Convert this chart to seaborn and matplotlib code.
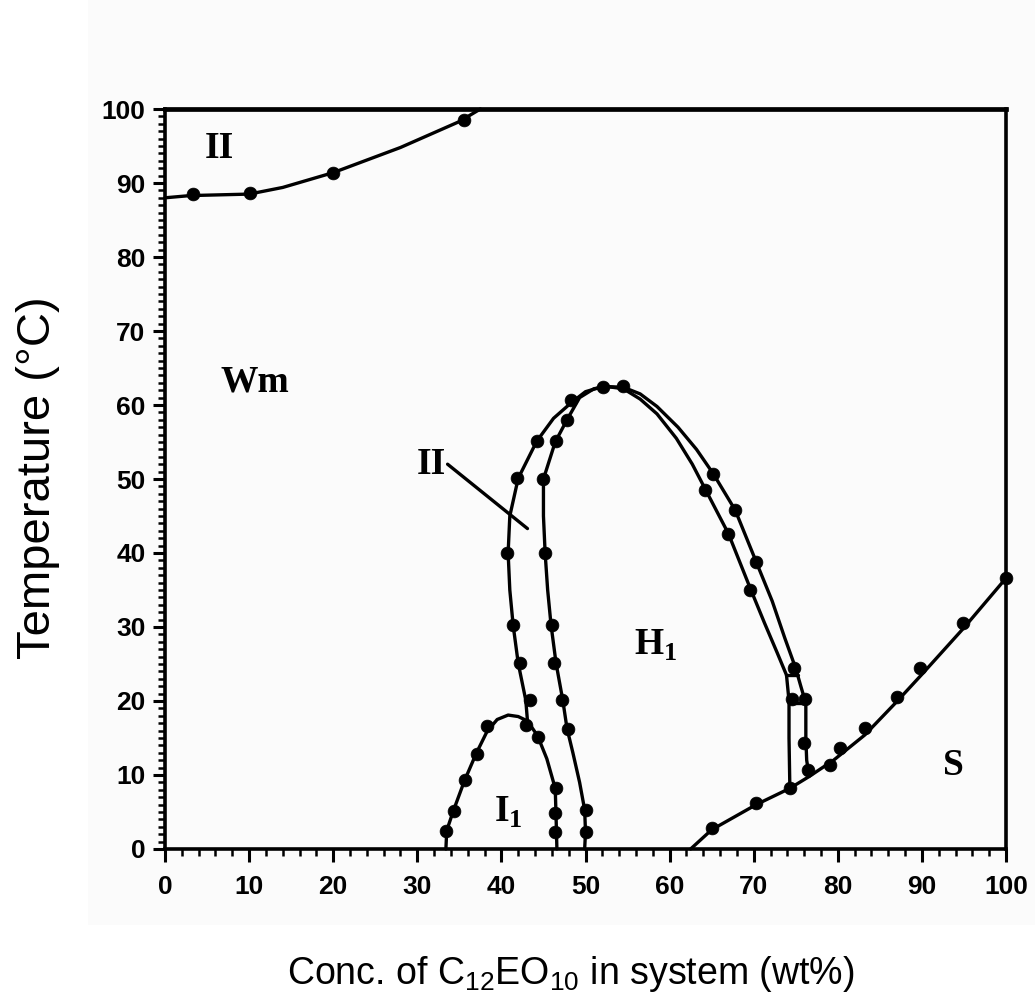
import matplotlib
matplotlib.use("Agg")
import matplotlib.pyplot as plt
from matplotlib.patches import Rectangle
from matplotlib.ticker import MultipleLocator
import pandas as pd
import seaborn as sns

# --- Phase boundaries (wt%, degC) ---

# upper two-phase boundary (cloud point)
top_x = [0, 3, 10, 14, 20, 28, 35, 37.5]
top_y = [88.0, 88.3, 88.5, 89.4, 91.4, 94.8, 98.3, 100]
top_dot_x = [3.3, 10.1, 20.0, 35.6]
top_dot_y = [88.5, 88.6, 91.4, 98.5]

# I1 dome
dome_x = [33.4, 33.5, 34.3, 35.6, 37.0, 38.3, 39.5, 40.8, 42.0, 43.1, 44.3, 45.4, 46.4, 46.5, 46.6]
dome_y = [0, 2.5, 5.2, 9.2, 12.9, 15.9, 17.5, 18.1, 17.9, 17.3, 15.3, 12.2, 8.2, 4.4, 0]
dome_dot_x = [33.4, 34.4, 35.7, 37.1, 38.3, 42.9, 44.3, 46.5, 46.4, 46.4]
dome_dot_y = [2.5, 5.2, 9.3, 12.9, 16.6, 16.8, 15.1, 8.2, 4.8, 2.3]

# outer boundary of the II band around H1
outer_x = [43.1, 42.9, 42.0, 41.4, 41.0, 40.8, 41.0, 42.0, 44.2, 46.2, 48.4, 50.0, 52.1,
           54.5, 56.5, 58.5, 61.0, 63.2, 65.2, 67.8, 70.3, 72.2, 73.7, 75.0, 75.6, 76.2,
           76.2, 76.3, 76.6]
outer_y = [17.3, 20.1, 25.1, 30.2, 35.0, 40.0, 45.0, 50.1, 55.1, 58.2, 60.4, 61.8, 62.5,
           62.4, 61.5, 59.8, 57.0, 54.0, 50.7, 45.8, 38.8, 33.5, 28.5, 24.4, 22.0, 19.7,
           15.0, 12.0, 9.8]
outer_dot_x = [43.4, 42.2, 41.4, 40.7, 41.9, 44.2, 48.3, 52.1, 54.5,
               65.2, 67.8, 70.3, 74.8, 76.1, 76.0, 76.5]
outer_dot_y = [20.2, 25.1, 30.3, 40.0, 50.1, 55.2, 60.7, 62.5, 62.6,
               50.7, 45.8, 38.8, 24.4, 20.3, 14.3, 10.7]

# inner boundary (edge of H1)
inner_x = [49.9, 50.0, 49.9, 49.3, 48.5, 47.8, 47.3, 46.5, 45.9, 45.5, 45.2, 45.0, 45.0,
           46.4, 47.8, 49.3, 51.0, 52.5, 54.5, 56.5, 58.5, 60.8, 62.7, 64.3, 67.0, 69.6,
           71.3, 72.8, 73.9, 74.2, 74.2, 74.3]
inner_y = [0, 2.3, 5.3, 9.0, 13.0, 16.3, 20.1, 25.1, 30.3, 35.0, 40.0, 45.0, 50.0,
           55.0, 58.0, 61.0, 62.2, 62.5, 62.2, 60.8, 58.8, 55.5, 52.0, 48.5, 42.6, 35.2,
           30.5, 26.5, 23.5, 20.0, 15.0, 8.2]
inner_dot_x = [50.0, 50.0, 47.9, 47.2, 46.2, 46.0, 45.2, 44.9, 46.5, 47.8,
               64.2, 67.0, 69.6, 74.5, 74.3]
inner_dot_y = [2.3, 5.3, 16.2, 20.1, 25.1, 30.3, 40.0, 50.0, 55.1, 58.0,
               48.5, 42.6, 35.0, 20.3, 8.2]

# tie lines in the narrow band
tie_x = [[73.9, 75.3], [74.2, 76.2]]
tie_y = [[23.5, 23.5], [19.7, 19.7]]

# solid (S) boundary
s_x = [62.5, 65.0, 70.3, 74.3, 76.6, 79.5, 83.2, 87.0, 90.0, 95.0, 100.0]
s_y = [0, 2.6, 6.0, 8.2, 9.8, 12.0, 15.4, 19.9, 23.6, 29.9, 36.6]
s_dot_x = [65.0, 70.3, 79.1, 80.3, 83.2, 87.0, 89.8, 94.9, 100.0]
s_dot_y = [2.8, 6.2, 11.4, 13.6, 16.3, 20.6, 24.4, 30.6, 36.6]

# region labels
region_text = ["II", "Wm", "II", r"H$_\mathregular{1}$", r"I$_\mathregular{1}$", "S"]
region_x = [6.5, 10.7, 31.7, 58.3, 40.8, 93.7]
region_y = [94.7, 63.1, 51.9, 27.5, 5.0, 11.3]
leader_x = [33.6, 43.1]
leader_y = [52.0, 43.3]


sns.set_theme(style="ticks")
plt.rcParams["font.family"] = ["Liberation Sans", "DejaVu Sans"]
plt.rcParams["text.color"] = "black"

fig = plt.figure(figsize=(10.35, 9.97), dpi=100)
fig.patches.append(Rectangle((88 / 1035, 1 - 925 / 997), 1, 1, transform=fig.transFigure,
                             facecolor="#fbfbfb", edgecolor="none", zorder=-5))
ax = fig.add_axes([165 / 1035, 1 - 849 / 997, 841 / 1035, 740 / 997])
ax.set_facecolor("#fbfbfb")

lines = [(top_x, top_y), (dome_x, dome_y), (outer_x, outer_y), (inner_x, inner_y),
         (s_x, s_y), (leader_x, leader_y)] + list(zip(tie_x, tie_y))
for xs, ys in lines:
    df = pd.DataFrame({"x": xs, "y": ys})
    sns.lineplot(data=df, x="x", y="y", sort=False, estimator=None, color="black",
                 linewidth=2.4, ax=ax, clip_on=False)

dots = pd.DataFrame({
    "x": top_dot_x + dome_dot_x + outer_dot_x + inner_dot_x + s_dot_x,
    "y": top_dot_y + dome_dot_y + outer_dot_y + inner_dot_y + s_dot_y,
})
sns.scatterplot(data=dots, x="x", y="y", color="black", s=85, edgecolor="black",
                linewidth=0.5, ax=ax, zorder=5, clip_on=False)

for txt, x, y in zip(region_text, region_x, region_y):
    ax.text(x, y, txt, ha="center", va="center", fontsize=27, fontweight="bold",
            color="black", family=["Liberation Serif", "DejaVu Serif"])

ax.set_xlim(0, 100)
ax.set_ylim(0, 100)
ax.xaxis.set_major_locator(MultipleLocator(10))
ax.xaxis.set_minor_locator(MultipleLocator(2))
ax.yaxis.set_major_locator(MultipleLocator(10))
ax.yaxis.set_minor_locator(MultipleLocator(1))
ax.tick_params(which="major", direction="out", length=9, width=2.2, labelsize=19,
               pad=5, color="black", labelcolor="black")
ax.tick_params(axis="x", which="major", pad=10)
ax.tick_params(which="minor", direction="out", length=5, width=1.8, color="black")
for lab in ax.get_xticklabels() + ax.get_yticklabels():
    lab.set_fontweight("bold")
for side in ["left", "bottom", "right"]:
    ax.spines[side].set_linewidth(2.6)
    ax.spines[side].set_color("black")
ax.spines["top"].set_linewidth(3.4)
ax.spines["top"].set_color("black")
ax.set_xlabel("")
ax.set_ylabel("")

fig.text(38 / 1035, 1 - 478 / 997, "Temperature (°C)", rotation=90, ha="center",
         va="center", fontsize=34, color="black")
fig.text(571 / 1035, 1 - 984 / 997,
         r"Conc. of C$_\mathregular{12}$EO$_\mathregular{10}$ in system (wt%)",
         ha="center", va="baseline", fontsize=27, color="black")

fig.savefig("out.png", dpi=100, facecolor="white")
